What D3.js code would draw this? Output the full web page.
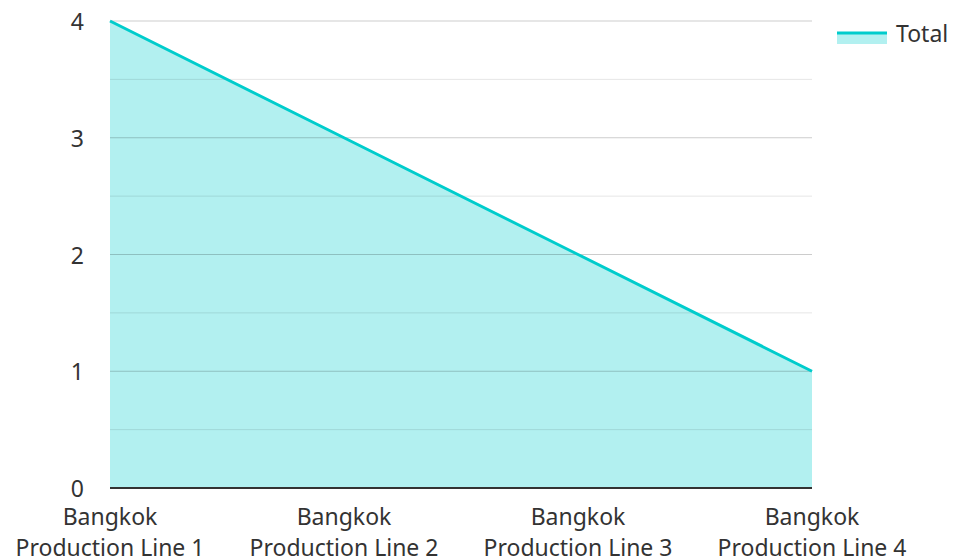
<!DOCTYPE html>
<html>
<head>
<meta charset="utf-8">
<script src="https://cdn.jsdelivr.net/npm/d3@7"></script>
<style>
  html, body { margin: 0; padding: 0; background: #fff; }
  svg text { font-family: "Noto Sans", "Open Sans", sans-serif; fill: #333; }
</style>
</head>
<body>
<svg id="chart" width="953" height="560"></svg>
<script>
// Production totals per line
const categories = [
  ["Bangkok", "Production Line 1"],
  ["Bangkok", "Production Line 2"],
  ["Bangkok", "Production Line 3"],
  ["Bangkok", "Production Line 4"]
];
const totals = [4, 3, 2, 1];
const yTicks = [0, 1, 2, 3, 4];
const yMinorTicks = [0.5, 1.5, 2.5, 3.5];
const seriesName = "Total";

const svg = d3.select("#chart");
const margin = { left: 110, right: 141, top: 21, bottom: 72 };
const W = 953, H = 560;
const fontSize = 23;

const x = d3.scalePoint()
  .domain(d3.range(categories.length))
  .range([margin.left, W - margin.right]);
const y = d3.scaleLinear()
  .domain([0, 4])
  .range([H - margin.bottom, margin.top]);

const data = totals.map((v, i) => ({ i, v }));

// area fill
svg.append("path").datum(data)
  .attr("fill", "#00cccc").attr("fill-opacity", 0.3)
  .attr("d", d3.area().x(d => x(d.i)).y0(y(0)).y1(d => y(d.v)));

// grid lines
svg.append("g").selectAll("line").data(yMinorTicks).join("line")
  .attr("x1", margin.left).attr("x2", W - margin.right)
  .attr("y1", d => y(d)).attr("y2", d => y(d))
  .attr("stroke", "#000").attr("stroke-opacity", 0.1).attr("stroke-width", 1);
svg.append("g").selectAll("line").data(yTicks.filter(d => d > 0)).join("line")
  .attr("x1", margin.left).attr("x2", W - margin.right)
  .attr("y1", d => y(d)).attr("y2", d => y(d))
  .attr("stroke", "#000").attr("stroke-opacity", 0.2).attr("stroke-width", 1);

// line
svg.append("path").datum(data)
  .attr("fill", "none").attr("stroke", "#00cccc").attr("stroke-width", 3)
  .attr("d", d3.line().x(d => x(d.i)).y(d => y(d.v)));

// baseline
svg.append("line")
  .attr("x1", margin.left).attr("x2", W - margin.right)
  .attr("y1", y(0)).attr("y2", y(0))
  .attr("stroke", "#333").attr("stroke-width", 2);

// y axis labels
svg.append("g").selectAll("text").data(yTicks).join("text")
  .attr("x", 84).attr("y", d => y(d))
  .attr("text-anchor", "end").attr("dominant-baseline", "central")
  .attr("font-size", fontSize)
  .text(d => d);

// x axis labels
const xl = svg.append("g").selectAll("text").data(categories).join("text")
  .attr("text-anchor", "middle").attr("font-size", fontSize)
  .attr("transform", (d, i) => `translate(${x(i)},0)`);
xl.append("tspan").attr("x", 0).attr("y", 525).text(d => d[0]);
xl.append("tspan").attr("x", 0).attr("y", 556).text(d => d[1]);

// legend
const lg = svg.append("g").attr("transform", "translate(837,33)");
lg.append("rect").attr("x", 0).attr("y", 0).attr("width", 50).attr("height", 11)
  .attr("fill", "#00cccc").attr("fill-opacity", 0.3);
lg.append("line").attr("x1", 0).attr("x2", 50).attr("y1", 0).attr("y2", 0)
  .attr("stroke", "#00cccc").attr("stroke-width", 3);
lg.append("text").attr("x", 59).attr("y", 0)
  .attr("dominant-baseline", "central").attr("font-size", fontSize)
  .text(seriesName);
</script>
</body>
</html>
